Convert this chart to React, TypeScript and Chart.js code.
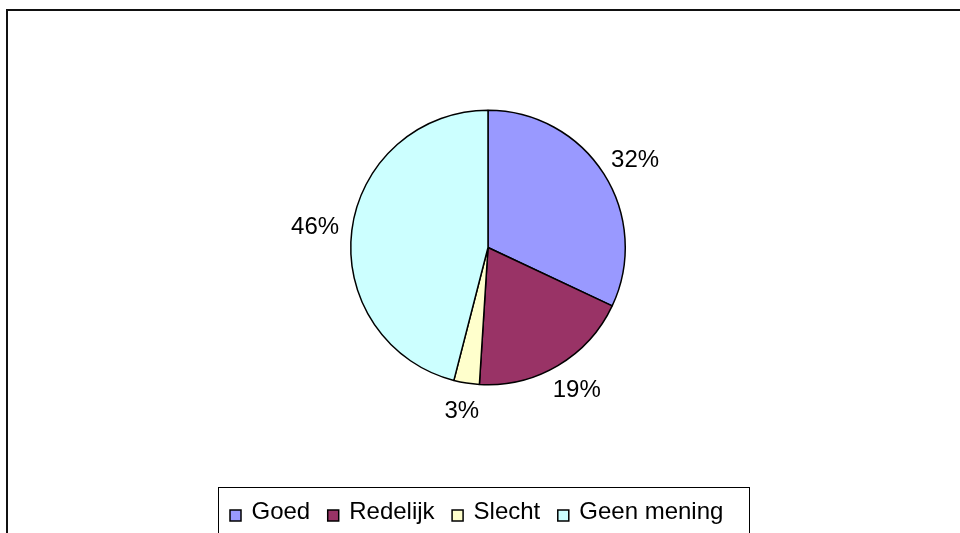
import React, { useEffect, useRef } from "react";
import { Chart, registerables } from "chart.js";

Chart.register(...registerables);

const categories = ["Goed", "Redelijk", "Slecht", "Geen mening"];
const values = [32, 19, 3, 46];
const colors = ["#9999FF", "#993366", "#FFFFCC", "#CCFFFF"];

const FONT = "24px 'Liberation Sans', Arial, sans-serif";

const framePlugin = {
  id: "frame",
  beforeDraw(chart: any) {
    const ctx = chart.ctx;
    ctx.save();
    ctx.fillStyle = "#ffffff";
    ctx.fillRect(0, 0, chart.width, chart.height);
    ctx.strokeStyle = "#111111";
    ctx.lineWidth = 2;
    ctx.beginPath();
    ctx.moveTo(7, chart.height + 5);
    ctx.lineTo(7, 10);
    ctx.lineTo(chart.width + 5, 10);
    ctx.stroke();
    ctx.restore();
  },
};

const labelPlugin = {
  id: "pctLabels",
  afterDatasetsDraw(chart: any) {
    const ctx = chart.ctx;
    const meta = chart.getDatasetMeta(0);
    const data = chart.data.datasets[0].data as number[];
    const total = data.reduce((a, b) => a + b, 0);
    ctx.save();
    ctx.font = FONT;
    ctx.fillStyle = "#000000";
    ctx.textAlign = "center";
    ctx.textBaseline = "middle";
    meta.data.forEach((arc: any, i: number) => {
      const { x, y, startAngle, endAngle, outerRadius } = arc.getProps(
        ["x", "y", "startAngle", "endAngle", "outerRadius"],
        true
      );
      const mid = (startAngle + endAngle) / 2;
      const txt = Math.round((data[i] / total) * 100) + "%";
      const w = ctx.measureText(txt).width;
      const h = 30;
      const gap = 13;
      const cx = Math.cos(mid);
      const sy = Math.sin(mid);
      const ax = x + cx * (outerRadius + gap) + cx * (w / 2);
      const ay = y + sy * (outerRadius + gap) + sy * (h / 2);
      ctx.fillText(txt, ax, ay + 1);
    });
    ctx.restore();
  },
};

const legendPlugin = {
  id: "boxLegend",
  afterDraw(chart: any) {
    const ctx = chart.ctx;
    const labels = chart.data.labels as string[];
    const bg = chart.data.datasets[0].backgroundColor as string[];
    ctx.save();
    ctx.font = FONT;
    const sq = 11;
    const sqGap = 10.5;
    const itemGap = 17.5;
    const boxX = 218.5;
    const boxY = 487.5;
    const boxR = 749.5;
    ctx.fillStyle = "#ffffff";
    ctx.fillRect(boxX, boxY, boxR - boxX, chart.height - boxY + 5);
    ctx.strokeStyle = "#000000";
    ctx.lineWidth = 1;
    ctx.strokeRect(boxX, boxY, boxR - boxX, chart.height - boxY + 10);
    let x = 230;
    const baseline = 518.5;
    labels.forEach((l, i) => {
      ctx.fillStyle = bg[i];
      ctx.fillRect(x, 510, sq, sq);
      ctx.strokeStyle = "#000000";
      ctx.lineWidth = 1.5;
      ctx.strokeRect(x, 510, sq, sq);
      x += sq + sqGap;
      ctx.fillStyle = "#000000";
      ctx.textAlign = "left";
      ctx.textBaseline = "alphabetic";
      ctx.fillText(l, x, baseline);
      x += ctx.measureText(l).width + itemGap;
    });
    ctx.restore();
  },
};

export default function App() {
  const ref = useRef<HTMLCanvasElement | null>(null);
  useEffect(() => {
    if (!ref.current) return;
    const chart = new Chart(ref.current, {
      type: "pie",
      data: {
        labels: categories,
        datasets: [
          {
            data: values,
            backgroundColor: colors,
            borderColor: "#000000",
            borderWidth: 1.5,
          },
        ],
      },
      options: {
        responsive: false,
        animation: false,
        devicePixelRatio: 1,
        layout: { padding: { left: 188, right: 172, top: 109.5, bottom: 147.5 } },
        plugins: {
          legend: { display: false },
          tooltip: { enabled: false },
        },
      },
      plugins: [framePlugin, labelPlugin, legendPlugin],
    });
    return () => chart.destroy();
  }, []);
  return (
    <div style={{ position: "fixed", left: 0, top: 0, width: 960, height: 533 }}>
      <canvas ref={ref} width={960} height={533} style={{ display: "block" }} />
    </div>
  );
}
